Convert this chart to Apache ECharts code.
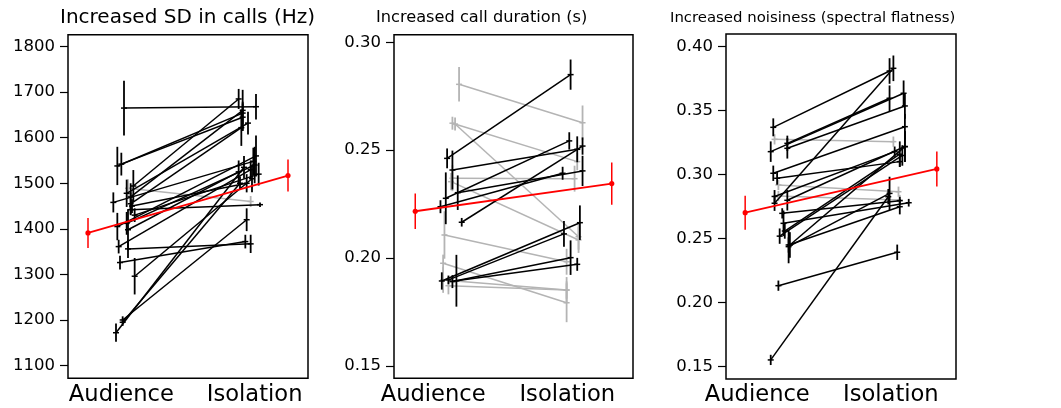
<!DOCTYPE html>
<html><head><meta charset="utf-8">
<script src="https://cdn.jsdelivr.net/npm/echarts@6/dist/echarts.min.js"></script>
<style>html,body{margin:0;padding:0;background:#fff}#c{width:1061px;height:408px}</style>
</head><body><div id="c"></div>
<script>
// ---------- DATA ----------
const conditions = ['Audience', 'Isolation'];
const titles = ['Increased SD in calls (Hz)', 'Increased call duration (s)', 'Increased noisiness (spectral flatness)'];

// Panel 1: SD in calls (Hz)
const sdAudX   = [0.02,-0.03,0.00,0.09,0.07,0.05,-0.06,0.04,0.07,0.07,-0.03,0.05,0.04,-0.02,0.05,-0.01,0.10,0.01,-0.04,0.01,0.08,0.10];
const sdAud    = [1665,1538,1542,1494,1470,1489,1458,1478,1442,1455,1405,1398,1412,1361,1356,1326,1296,1200,1172,1195,1450,1430];
const sdAudErr = [60,42,25,35,30,20,22,30,10,25,30,45,25,15,20,15,40,8,20,8,15,15];
const sdIsoX   = [1.01,0.91,0.91,0.88,0.91,0.97,0.99,0.95,1.04,0.90,1.01,0.88,1.00,0.97,0.97,0.93,0.98,0.94,0.92,0.89,0.94,1.03];
const sdIso    = [1668,1654,1645,1685,1660,1460,1548,1632,1453,1622,1560,1525,1540,1530,1367,1372,1510,1420,1535,1500,1500,1520];
const sdIsoErr = [28,25,30,22,45,12,30,25,5,40,45,25,40,20,20,15,30,25,25,15,20,25];
const sdMeanX   = [-0.25, 1.25];
const sdMean    = [1391, 1517];
const sdMeanErr = [33, 35];
const sdTicks   = [1100,1200,1300,1400,1500,1600,1700,1800];

// Panel 2: call duration (s)
const durAudX   = [0.00,0.04,-0.01,-0.05,0.08,0.11,-0.04,0.01,0.04,0.07,0.09,0.04,0.06,0.04,-0.02,-0.03,0.01,-0.03,0.03];
const durAud    = [0.2462,0.2408,0.2277,0.2238,0.2303,0.2166,0.1894,0.1899,0.1891,0.1895,0.2805,0.2625,0.2621,0.2370,0.2107,0.1976,0.1872,0.1899,0.2354];
const durAudErr = [0.0046,0.009,0.012,0.003,0.008,0.002,0.004,0.002,0.003,0.012,0.008,0.003,0.003,0.006,0.011,0.004,0.004,0.006,0.004];
const durIsoX   = [0.93,0.98,0.92,0.87,1.02,1.02,1.00,0.88,0.93,0.98,1.02,0.98,0.99,0.96,0.90,0.90,0.90,0.90,0.99];
const durIso    = [0.2850,0.2504,0.2543,0.2393,0.2404,0.2519,0.2164,0.2112,0.2002,0.1971,0.2627,0.2447,0.2099,0.2368,0.1983,0.1793,0.1852,0.1852,0.2084];
const durIsoErr = [0.007,0.006,0.004,0.003,0.007,0.004,0.008,0.006,0.008,0.003,0.008,0.004,0.006,0.006,0.006,0.009,0.006,0.004,0.006];
const durMeanX   = [-0.24, 1.24];
const durMean    = [0.2217, 0.2345];
const durMeanErr = [0.0082, 0.0098];
const durTicks   = [0.15,0.20,0.25,0.30];

// Panel 3: noisiness (spectral flatness)
const nzAudX   = [-0.03,-0.02,0.08,0.08,-0.05,-0.03,0.00,0.10,0.04,0.05,0.09,0.09,0.01,-0.05,0.06,0.08,0.02,-0.02,-0.02,0.01,0.01];
const nzAud    = [0.3370,0.2777,0.3245,0.3206,0.3180,0.3011,0.2972,0.2451,0.2698,0.2620,0.2451,0.2438,0.2133,0.1553,0.2560,0.2800,0.2520,0.2830,0.3276,0.2920,0.2833];
const nzAudErr = [0.007,0.006,0.006,0.008,0.008,0.006,0.005,0.010,0.004,0.010,0.006,0.013,0.004,0.004,0.006,0.008,0.006,0.005,0.004,0.004,0.004];
const nzIsoX   = [0.88,0.91,0.88,1.00,0.99,1.00,0.96,1.00,0.96,1.03,0.96,0.88,0.94,0.87,0.96,1.00,0.98,0.92,0.91,0.95,0.96];
const nzIso    = [0.3810,0.3831,0.3597,0.3537,0.3636,0.3375,0.3102,0.3219,0.2797,0.2781,0.2750,0.2854,0.2394,0.2828,0.3160,0.3220,0.3150,0.3180,0.3258,0.2867,0.2802];
const nzIsoErr = [0.010,0.010,0.010,0.010,0.010,0.010,0.004,0.012,0.003,0.003,0.006,0.013,0.006,0.006,0.010,0.012,0.008,0.004,0.004,0.004,0.004];
const nzMeanX   = [-0.25, 1.25];
const nzMean    = [0.2703, 0.3045];
const nzMeanErr = [0.0133, 0.0137];
const nzTicks   = [0.15,0.20,0.25,0.30,0.35,0.40];

// ---------- BUILD ----------
const FONT = 'DejaVu Sans';
const BLACK = '#000000', GRAY = '#b4b4b4', RED = '#ff0000';

function rows(ax, a, ae, ix, i, ie) {
  return a.map((v, k) => [ax[k], v, ae[k], ix[k], i[k], ie[k]]);
}

function makeRender(color, lineW, barW, dot) {
  return function (params, api) {
    const ax = api.value(0), av = api.value(1), ae = api.value(2);
    const ix = api.value(3), iv = api.value(4), ie = api.value(5);
    const a = api.coord([ax, av]), b = api.coord([ix, iv]);
    const a1 = api.coord([ax, av + ae]), a2 = api.coord([ax, av - ae]);
    const b1 = api.coord([ix, iv + ie]), b2 = api.coord([ix, iv - ie]);
    const st = { stroke: color, lineWidth: lineW };
    const sb = { stroke: color, lineWidth: barW };
    const ch = [
      { type: 'line', shape: { x1: a[0], y1: a[1], x2: b[0], y2: b[1] }, style: st },
      { type: 'line', shape: { x1: a1[0], y1: a1[1], x2: a2[0], y2: a2[1] }, style: sb },
      { type: 'line', shape: { x1: b1[0], y1: b1[1], x2: b2[0], y2: b2[1] }, style: sb }
    ];
    if (dot) {
      ch.push({ type: 'circle', shape: { cx: a[0], cy: a[1], r: 2.6 }, style: { fill: color } });
      ch.push({ type: 'circle', shape: { cx: b[0], cy: b[1], r: 2.6 }, style: { fill: color } });
    } else {
      ch.push({ type: 'line', shape: { x1: a[0] - 3, y1: a[1], x2: a[0] + 3, y2: a[1] }, style: st });
      ch.push({ type: 'line', shape: { x1: b[0] - 3, y1: b[1], x2: b[0] + 3, y2: b[1] }, style: st });
    }
    return { type: 'group', children: ch };
  };
}

const panels = [
  { data: rows(sdAudX, sdAud, sdAudErr, sdIsoX, sdIso, sdIsoErr),
    mean: [[sdMeanX[0], sdMean[0], sdMeanErr[0], sdMeanX[1], sdMean[1], sdMeanErr[1]]],
    ticks: sdTicks, fmt: v => String(v), min: 1072, max: 1826,
    grid: { left: 68, top: 34.7, width: 240, height: 343.6 }, labelX: [0, 1] },
  { data: rows(durAudX, durAud, durAudErr, durIsoX, durIso, durIsoErr),
    mean: [[durMeanX[0], durMean[0], durMeanErr[0], durMeanX[1], durMean[1], durMeanErr[1]]],
    ticks: durTicks, fmt: v => v.toFixed(2), min: 0.1443, max: 0.3035,
    grid: { left: 394, top: 34.7, width: 239, height: 343.6 }, labelX: [-0.105, 0.905] },
  { data: rows(nzAudX, nzAud, nzAudErr, nzIsoX, nzIso, nzIsoErr),
    mean: [[nzMeanX[0], nzMean[0], nzMeanErr[0], nzMeanX[1], nzMean[1], nzMeanErr[1]]],
    ticks: nzTicks, fmt: v => v.toFixed(2), min: 0.1404, max: 0.4099,
    grid: { left: 726, top: 34, width: 230, height: 345 }, labelX: [-0.155, 0.89] }
];

const titleLefts = [60, 376, 670];
const titleSizes = [20, 16.2, 14.9];
const titleTops  = [8, 10, 10.5];

const option = {
  animation: false,
  backgroundColor: '#ffffff',
  title: titles.map((t, k) => ({
    text: t, left: titleLefts[k], top: titleTops[k], padding: 0,
    textStyle: { fontFamily: FONT, fontSize: titleSizes[k], fontWeight: 'normal', color: '#000' }
  })),
  grid: panels.map(p => Object.assign({ show: true, borderColor: '#000', borderWidth: 1.5, backgroundColor: 'transparent' }, p.grid)),
  xAxis: panels.map((p, k) => ({
    gridIndex: k, type: 'value', min: -0.4, max: 1.4,
    axisLine: { show: false, onZero: false }, axisTick: { show: false }, splitLine: { show: false },
    axisLabel: {
      customValues: p.labelX, margin: 5,
      formatter: v => (v < 0.5 ? conditions[0] : conditions[1]),
      fontFamily: FONT, fontSize: 22.6, color: '#000'
    }
  })),
  yAxis: panels.map((p, k) => ({
    gridIndex: k, type: 'value', min: p.min, max: p.max,
    axisLine: { show: false, onZero: false }, splitLine: { show: false },
    axisTick: { show: true, customValues: p.ticks, length: 8, lineStyle: { color: '#000', width: 1.2 } },
    axisLabel: { customValues: p.ticks, formatter: p.fmt, margin: 13, fontFamily: FONT, fontSize: 16.5, color: '#000' }
  })),
  series: []
};

panels.forEach((p, k) => {
  const dec = p.data.filter(r => r[4] < r[1]);
  const inc = p.data.filter(r => r[4] >= r[1]);
  option.series.push({ type: 'custom', xAxisIndex: k, yAxisIndex: k, data: dec, renderItem: makeRender(GRAY, 1.5, 1.8, false), z: 2, silent: true });
  option.series.push({ type: 'custom', xAxisIndex: k, yAxisIndex: k, data: inc, renderItem: makeRender(BLACK, 1.5, 1.8, false), z: 3, silent: true });
  option.series.push({ type: 'custom', xAxisIndex: k, yAxisIndex: k, data: p.mean, renderItem: makeRender(RED, 1.8, 1.5, true), z: 4, silent: true });
});

const chart = echarts.init(document.getElementById('c'), null, { renderer: 'canvas' });
chart.setOption(option);
</script>
</body></html>
